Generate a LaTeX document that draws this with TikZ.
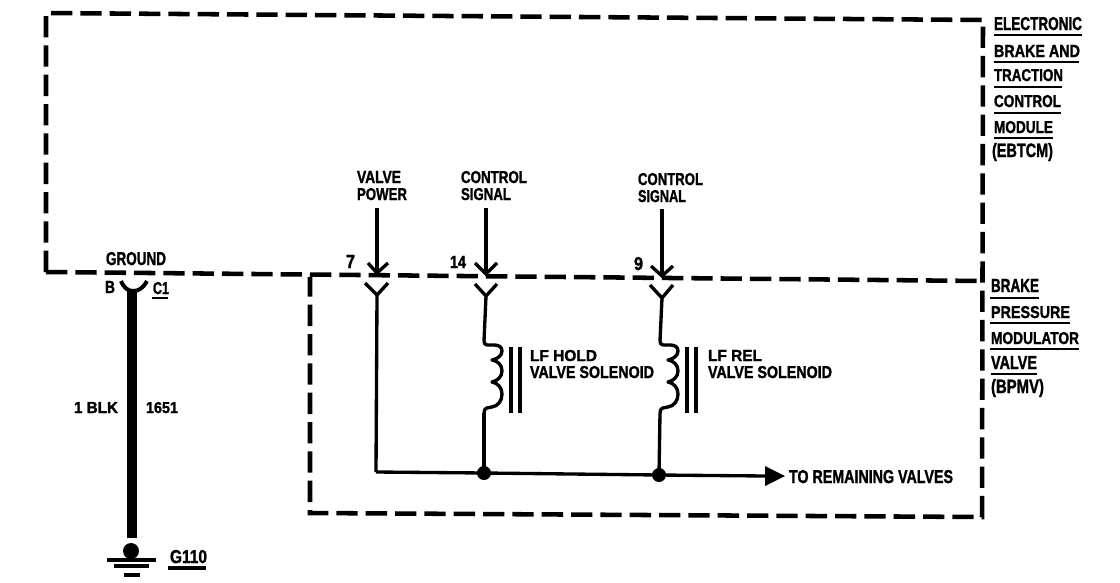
\documentclass[tikz,border=0pt]{standalone}
\usepackage{graphicx}
\usepackage{fontspec}
\setmainfont{Liberation Sans}[BoldFeatures={FakeBold=1.6}]
\newlength\pxu
\setlength\pxu{0.75pt}
% width, cap height (px), text: resized so that the label has the reference's extent
\newcommand{\lbl}[3]{\resizebox{#1\pxu}{#2\pxu}{\bfseries #3}}
\tikzset{
  lab/.style={anchor=base west,inner sep=0pt,outer sep=0pt,text=black},
  dashline/.style={line width=3.4pt,dash pattern=on 16pt off 6pt},
  wire/.style={line width=2.5pt},
  ulthick/.style={line width=2pt},
  jdot/.style={circle,fill=black,draw=none,minimum size=10.5pt,inner sep=0pt},
  pics/coilpic/.style={code={
    \draw[wire,line join=round] (0,0) .. controls (0,5) and (4,4) .. (10,4)
      .. controls (15,4) and (18,6) .. (18,10)
      .. controls (18,15) and (13,18) .. (8,19)
      .. controls (14,20) and (18,24) .. (18,30)
      .. controls (18,36) and (13,40) .. (8,41)
      .. controls (14,42) and (18,47) .. (18,53)
      .. controls (18,60) and (14,65) .. (8,66)
      .. controls (4,67) and (0,66) .. (0,72);
  }}
}
\begin{document}
\begin{tikzpicture}[x=0.75pt,y=-0.75pt]
\useasboundingbox (0,0) rectangle (1120,582);
% enclosures
\coordinate (ul) at (46,13);
\coordinate (ur) at (983,20);
\coordinate (ll) at (46,272);
\coordinate (mr) at (983,281);
\coordinate (br) at (982,517);
\coordinate (bl) at (310,513);
\coordinate (bt) at (310,277);
\draw[dashline] (ll) -- (ul) -- (ur) -- (br) -- (bl) -- (bt);
\draw[dashline] (ll) -- (mr);
% connector 7
\coordinate (a0) at (377,208); \coordinate (a1) at (377,273);
\coordinate (a2) at (368,263); \coordinate (a3) at (388,263);
\coordinate (a4) at (365,283); \coordinate (a5) at (377,295);
\coordinate (a6) at (388,283); \coordinate (a7) at (376,472);
\draw[wire] (a0) -- (a1); \draw[wire] (a2) -- (a1) -- (a3);
\draw[wire] (a4) -- (a5) -- (a6);
\draw[wire] (a5) -- (a7);
% connector 14
\coordinate (b0) at (486,208); \coordinate (b1) at (486,274);
\coordinate (b2) at (475,263); \coordinate (b3) at (497,263);
\coordinate (b4) at (475,284); \coordinate (b5) at (486,296);
\coordinate (b6) at (497,284); \coordinate (b7) at (484,341); \coordinate (b8) at (484,413);
\draw[wire] (b0) -- (b1); \draw[wire] (b2) -- (b1) -- (b3);
\draw[wire] (b4) -- (b5) -- (b6);
\draw[wire] (b5) -- (b7);
\pic at (b7) {coilpic};
% connector 9
\coordinate (c0) at (662,209); \coordinate (c1) at (662,276);
\coordinate (c2) at (651,266); \coordinate (c3) at (673,266);
\coordinate (c4) at (650,285); \coordinate (c5) at (662,298);
\coordinate (c6) at (673,285); \coordinate (c7) at (660,341); \coordinate (c8) at (660,413);
\draw[wire] (c0) -- (c1); \draw[wire] (c2) -- (c1) -- (c3);
\draw[wire] (c4) -- (c5) -- (c6);
\draw[wire] (c5) -- (c7);
\pic at (c7) {coilpic};
% solenoid cores
\foreach \xa in {511,520,687,696}{\draw[line width=2.3pt] (\xa,347) -- (\xa,413);}
% bus
\node[jdot] (j1) at (484,473) {};
\node[jdot] (j2) at (659,475) {};
\coordinate (arrbase) at (765,476);
\coordinate (arrtip) at (785,476);
\draw[wire] (a7) -- (j1.center) -- (j2.center) -- (arrbase);
\draw[wire] (b8) -- (j1.center);
\draw[wire] (c8) -- (j2.center);
\fill (765,466) -- (arrtip) -- (765,486) -- cycle;
% ground
\coordinate (g0) at (132,290);
\coordinate (g1) at (132,538);
\draw[line width=7.5pt] (g0) -- (g1);
\draw[line width=3pt] (121,281) .. controls (124,288) and (128,291) .. (133,291) .. controls (139,291) and (143,288) .. (147,281);
\node[circle,fill=black,minimum size=12pt,inner sep=0pt] (gd) at (131,551) {};
\coordinate (g2l) at (107,560); \coordinate (g2r) at (156,560);
\coordinate (g3l) at (114,566); \coordinate (g3r) at (149,566);
\coordinate (g4l) at (124,575); \coordinate (g4r) at (140,575);
\draw[line width=3pt] (g2l) -- (g2r);
\draw[line width=2.3pt] (g3l) -- (g3r);
\draw[line width=3pt] (g4l) -- (g4r);
% EBTCM
\node[lab] (e1) at (994,30) {\lbl{88}{13}{ELECTRONIC}};
\node[lab] (e2) at (994,57) {\lbl{86}{12}{BRAKE AND}};
\node[lab] (e3) at (994,81) {\lbl{69}{12}{TRACTION}};
\node[lab] (e4) at (994,107) {\lbl{67}{12}{CONTROL}};
\node[lab] (e5) at (994,133) {\lbl{59}{12}{MODULE}};
\node[lab] (e6) at (992,157) {\lbl{61}{14}{(EBTCM)}};
\draw[ulthick] (994,35) -- (1082,35);
\draw[ulthick] (994,62) -- (1079,62);
\draw[ulthick] (994,87) -- (1062,87);
\draw[ulthick] (994,113) -- (1061,113);
\draw[ulthick] (994,138) -- (1053,138);
% BPMV
\node[lab] (p1) at (991,292) {\lbl{48}{13}{BRAKE}};
\node[lab] (p2) at (991,318) {\lbl{79}{12}{PRESSURE}};
\node[lab] (p3) at (991,344) {\lbl{88}{12}{MODULATOR}};
\node[lab] (p4) at (991,369) {\lbl{46}{13}{VALVE}};
\node[lab] (p5) at (991,393) {\lbl{53}{14}{(BPMV)}};
\draw[ulthick] (990,298) -- (1039,298);
\draw[ulthick] (990,323) -- (1070,323);
\draw[ulthick] (990,349) -- (1079,349);
\draw[ulthick] (991,374) -- (1037,374);
% upper labels
\node[lab] (t1) at (357,183) {\lbl{44}{12}{VALVE}};
\node[lab] (t2) at (357,200) {\lbl{50}{12}{POWER}};
\node[lab] (t3) at (461,183) {\lbl{66}{12}{CONTROL}};
\node[lab] (t4) at (461,200) {\lbl{50}{12}{SIGNAL}};
\node[lab] (t5) at (638,185) {\lbl{65}{12}{CONTROL}};
\node[lab] (t6) at (638,202) {\lbl{48}{12}{SIGNAL}};
\node[lab] (n1) at (346,268) {\lbl{9}{13}{7}};
\node[lab] (n2) at (450,268) {\lbl{16}{12}{14}};
\node[lab] (n3) at (634,270) {\lbl{9}{13}{9}};
% ground labels
\node[lab] (g5) at (106,265) {\lbl{60}{13}{GROUND}};
\node[lab] (g6) at (105,293) {\lbl{10}{12}{B}};
\node[lab] (g7) at (153,294) {\lbl{16}{12}{C1}};
\draw[line width=1.6pt] (152,298) -- (168,298);
\node[lab] (g8) at (74,413) {\lbl{44}{11}{1 BLK}};
\node[lab] (g9) at (146,413) {\lbl{32}{11}{1651}};
\node[lab] (g10) at (170,563) {\lbl{37}{13}{G110}};
\draw[line width=3pt] (168,568) -- (206,568);
% solenoid labels
\node[lab] (s1) at (530,361) {\lbl{67}{11}{LF HOLD}};
\node[lab] (s2) at (530,378) {\lbl{124}{12}{VALVE SOLENOID}};
\node[lab] (s3) at (708,361) {\lbl{54}{11}{LF REL}};
\node[lab] (s4) at (708,378) {\lbl{124}{12}{VALVE SOLENOID}};
\node[lab] (s5) at (789,483) {\lbl{164}{13}{TO REMAINING VALVES}};
\end{tikzpicture}
\end{document}
